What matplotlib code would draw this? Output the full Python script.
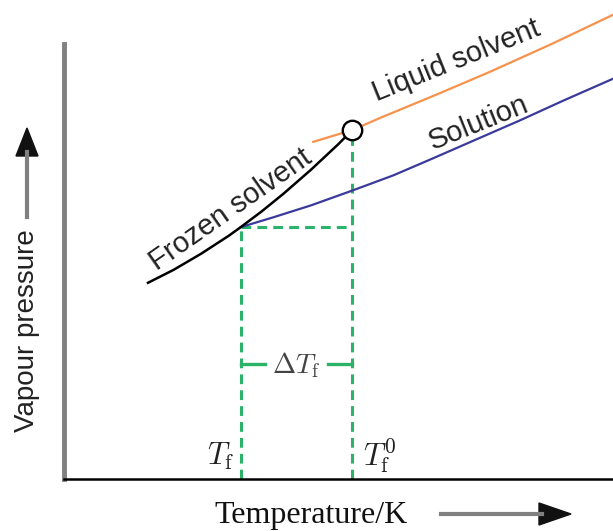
import matplotlib
matplotlib.use('Agg')
import matplotlib.pyplot as plt
import matplotlib.patches as mpatches
from matplotlib.lines import Line2D

plt.rcParams['mathtext.fontset'] = 'cm'

# Curves (temperature, vapour pressure), arbitrary units
frozen_t = [1.53, 2.00, 2.50, 3.00, 3.22, 3.60, 4.00, 4.50, 5.00, 5.25]
frozen_p = [4.51, 4.81, 5.18, 5.59, 5.79, 6.15, 6.56, 7.11, 7.70, 8.02]

liquid_t = [4.54, 5.25, 5.76, 6.85, 7.76, 8.85, 10.0]
liquid_p = [7.75, 8.02, 8.30, 8.87, 9.36, 9.98, 10.67]

solution_t = [3.22, 3.80, 4.50, 5.23, 6.00, 6.72, 7.50, 8.30, 9.10, 10.0]
solution_p = [5.79, 6.01, 6.29, 6.62, 6.98, 7.37, 7.80, 8.24, 8.70, 9.20]

t_freeze = 3.22       # Tf (solution)
t_freeze0 = 5.24      # Tf0 (pure solvent)
p_freeze = 5.79
p_freeze0 = 8.02

GREEN = '#2bb36a'
ORANGE = '#f7924c'
BLUE = '#3a3a9c'
TEXT = '#222222'

fig = plt.figure(figsize=(6.13, 5.31), dpi=100)
W, H = 613, 531
ax = fig.add_axes([64 / W, 52 / H, 549 / W, 479 / H])
ax.set_xlim(0, 10)
ax.set_ylim(0, 11.01)

# curves
ax.plot(liquid_t, liquid_p, color=ORANGE, lw=1.6, zorder=3)
ax.plot(solution_t, solution_p, color=BLUE, lw=1.6, zorder=3)
ax.plot(frozen_t, frozen_p, color='black', lw=1.8, zorder=4)
ax.plot([t_freeze0], [p_freeze0], marker='o', ms=14, mfc='white',
        mec='black', mew=1.7, zorder=6, clip_on=False)

# dashed guides
dash = (0, (3.2, 2))
ax.plot([t_freeze, t_freeze], [0, p_freeze], color=GREEN, lw=2.2, ls=dash, zorder=2)
ax.plot([t_freeze0, t_freeze0], [0, p_freeze0 - 0.2], color=GREEN, lw=2.2, ls=dash, zorder=2)
ax.plot([t_freeze, t_freeze0], [p_freeze, p_freeze], color=GREEN, lw=2.2, ls=dash, zorder=2)

# delta Tf bracket
y_br = 2.64
ax.plot([t_freeze, t_freeze + 0.44], [y_br, y_br], color=GREEN, lw=2.4, zorder=3)
ax.plot([t_freeze0 - 0.44, t_freeze0], [y_br, y_br], color=GREEN, lw=2.4, zorder=3)
ax.text((t_freeze + t_freeze0) / 2, 2.43, r'$\Delta T_{\mathrm{f}}$', ha='center',
        va='baseline', fontsize=20, color='#444444')

ax.text(t_freeze - 0.12, 0.32, r'$T_{\mathrm{f}}$', ha='right', va='baseline',
        fontsize=22, color=TEXT)
ax.text(t_freeze0 + 0.2, 0.30, r'$T_{\mathrm{f}}^{0}$', ha='left', va='baseline',
        fontsize=22, color=TEXT)

# curve labels
lab = dict(family='Liberation Sans', fontsize=21, color=TEXT,
           rotation_mode='anchor', ha='center', va='baseline')
ax.text(3.12, 6.05, 'Frozen solvent', rotation=35, **lab)
ax.text(7.21, 9.45, 'Liquid solvent', rotation=22, **lab)
ax.text(7.61, 8.02, 'Solution', rotation=22, **lab)

# axes look
for s in ['top', 'right']:
    ax.spines[s].set_visible(False)
ax.spines['left'].set_color('#808080')
ax.spines['left'].set_linewidth(3.5)
ax.spines['left'].set_bounds(0, 10)
ax.spines['bottom'].set_color('black')
ax.spines['bottom'].set_linewidth(1.8)
ax.set_xticks([])
ax.set_yticks([])
ax.patch.set_visible(False)

# axis labels with arrows (figure pixels, origin at top)
def fx(px):
    return px / W


def fy(py):
    return 1 - py / H


fig.text(fx(27), fy(331), 'Vapour pressure', rotation=90, ha='center', va='center',
         family='Liberation Sans', fontsize=20, color=TEXT)
fig.add_artist(Line2D([fx(27), fx(27)], [fy(217), fy(152)], color='#808080', lw=3,
                      transform=fig.transFigure))
fig.add_artist(mpatches.Polygon([[fx(27), fy(128)], [fx(16), fy(156)], [fx(38), fy(156)]],
                                closed=True, color='#111111', transform=fig.transFigure))

fig.text(fx(311), fy(515), 'Temperature/K', ha='center', va='center',
         family='Liberation Serif', fontsize=23, color='#111111')
fig.add_artist(Line2D([fx(441), fx(542)], [fy(514), fy(514)], color='#808080', lw=3,
                      transform=fig.transFigure))
fig.add_artist(mpatches.Polygon([[fx(571), fy(514)], [fx(539), fy(503)], [fx(539), fy(525)]],
                                closed=True, color='#111111', transform=fig.transFigure))

fig.savefig('out.png', dpi=100)
plt.close(fig)
